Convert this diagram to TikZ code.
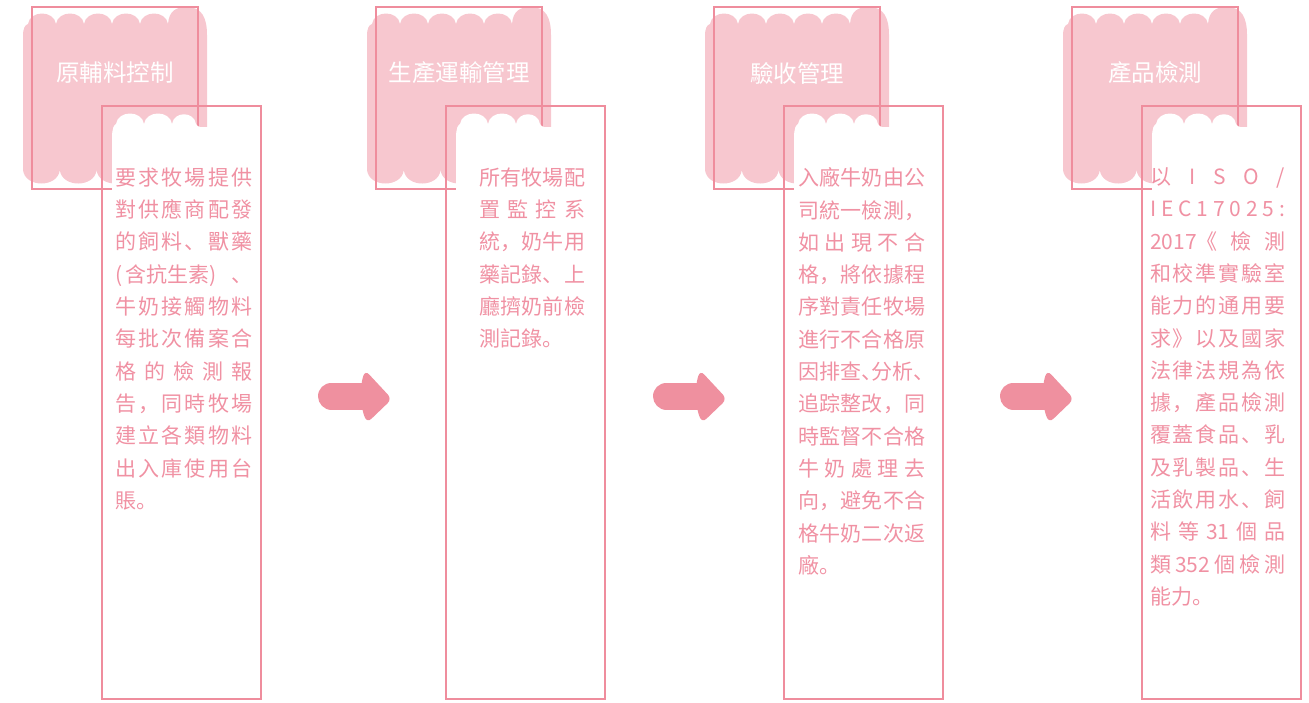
\documentclass[tikz,border=0pt]{standalone}
\usepackage{fontspec}
\newfontfamily\cjk{Noto Sans CJK SC}
\definecolor{linepink}{HTML}{EF8D9D}
\definecolor{blobpink}{HTML}{F7C7CF}
\definecolor{txtpink}{HTML}{F091A3}
\definecolor{arrowpink}{HTML}{EF909F}
\makeatletter
\def\jl@endmark{\jl@end}
\newcommand\jl[1]{\makebox[\hsize][s]{\jl@A#1\jl@end}}
\def\jl@A#1{#1\jl@B}
\def\jl@B#1{\def\jl@tmp{#1}\ifx\jl@tmp\jl@endmark\else\hfill#1\expandafter\jl@B\fi}
\makeatother
\newcommand\hw[1]{\makebox[0.5em][l]{#1}}
\tikzset{
  x=1pt, y=-1pt,
  blobfill/.style={fill=blobpink},
  boxline/.style={draw=linepink, line width=2pt},
  hdrtitle/.style={text=white, font=\cjk\fontsize{23.5}{28}\selectfont, inner sep=0pt},
  bodytext/.style={text=txtpink, font=\cjk\fontsize{21}{32.3}\selectfont, inner sep=0pt, align=left, anchor=north west},
  arrowbody/.style={draw=arrowpink, line width=27pt, line cap=round},
  arrowfill/.style={fill=arrowpink},
}
\newcommand\colshapes[3]{%
\begin{scope}[shift={(#1,0)}]
\fill[blobfill] (-9,170) -- (-9,36) .. controls (-9,28) and (-7,25) .. (-4,24)
 .. controls (-2,10) and (22,10) .. (24,24)
 .. controls (26,10) and (50,10) .. (52,24)
 .. controls (54,10) and (78,10) .. (80,24)
 .. controls (82,10) and (106,10) .. (108,24)
 .. controls (110,10) and (134,10) .. (136,24)
 .. controls (137,10) and (145,7) .. (155,7)
 .. controls (170,7) and (175,18) .. (175,35)
 -- (175,170)
 .. controls (173,188) and (140.2,188) .. (138.2,170)
 .. controls (136.2,188) and (103.4,188) .. (101.4,170)
 .. controls (99.4,188) and (66.6,188) .. (64.6,170)
 .. controls (62.6,188) and (29.8,188) .. (27.8,170)
 .. controls (25.8,188) and (-7,188) .. (-9,170) -- cycle;
\draw[boxline] (0,7) rectangle (166,189);
\fill[white] (80,205) -- (80,138) .. controls (80,128) and (82,125) .. (84,124)
 .. controls (86,110) and (110,110) .. (112,124)
 .. controls (114,110) and (138,110) .. (140,124)
 .. controls (142,111) and (162,111) .. (164,124)
 .. controls (166,128) and (170,127) .. (174,127) -- (228,127) -- (228,205) -- cycle;
\draw[boxline] (70,106) rectangle (229,699);
\node[hdrtitle] (#2) at (83,73) {#3};
\end{scope}}
\newcommand\arrowshape[2]{%
\begin{scope}[shift={(#1,0)}]
\coordinate (#2s) at (13.5,396);
\coordinate (#2e) at (46,396);
\draw[arrowbody] (#2s) -- (#2e);
\fill[arrowfill, rounded corners=6pt] (43,384) -- (47,370) -- (74,399) -- (49,423) -- (44,410) -- cycle;
\end{scope}}
\begin{document}
\begin{tikzpicture}
\useasboundingbox (0,0) rectangle (1309,702);
\colshapes{32}{t1}{原輔料控制}
\colshapes{376}{t2}{生產運輸管理}
\colshapes{714}{t3}{驗收管理}
\colshapes{1072}{t4}{產品檢測}
\node[bodytext, text width=137pt] (b1) at (115,167.5) {\jl{要求牧場提供}\\
\jl{對供應商配發}\\
\jl{的飼料、獸藥}\\
\jl{{(\,含抗生素)}、}\\
\jl{牛奶接觸物料}\\
\jl{每批次備案合}\\
\jl{格的檢測報}\\
\jl{告，同時牧場}\\
\jl{建立各類物料}\\
\jl{出入庫使用台}\\
賬。};
\node[bodytext, text width=106pt] (b2) at (479,167.5) {\jl{所有牧場配}\\
\jl{置監控系}\\
\jl{統，奶牛用}\\
\jl{藥記錄、上}\\
\jl{廳擠奶前檢}\\
測記錄。};
\node[bodytext, text width=127pt] (b3) at (798,167.5) {\jl{入廠牛奶由公}\\
\jl{司統一檢測，}\\
\jl{如出現不合}\\
\jl{格，將依據程}\\
\jl{序對責任牧場}\\
\jl{進行不合格原}\\
因排查\hw{、}分析\hw{、}\\
\jl{追踪整改，同}\\
\jl{時監督不合格}\\
\jl{牛奶處理去}\\
\jl{向，避免不合}\\
\jl{格牛奶二次返}\\
廠。};
\node[bodytext, text width=135pt] (b4) at (1150,167.5) {\jl{以ISO/}\\
\jl{IEC17025:}\\
\jl{{2017《}檢測}\\
\jl{和校準實驗室}\\
\jl{能力的通用要}\\
\jl{求》以及國家}\\
\jl{法律法規為依}\\
\jl{據，產品檢測}\\
\jl{覆蓋食品、乳}\\
\jl{及乳製品、生}\\
\jl{活飲用水、飼}\\
\jl{料等{31}個品}\\
\jl{類{352}個檢測}\\
能力。};
\arrowshape{318}{a1}
\arrowshape{653}{a2}
\arrowshape{1000}{a3}
\end{tikzpicture}
\end{document}
